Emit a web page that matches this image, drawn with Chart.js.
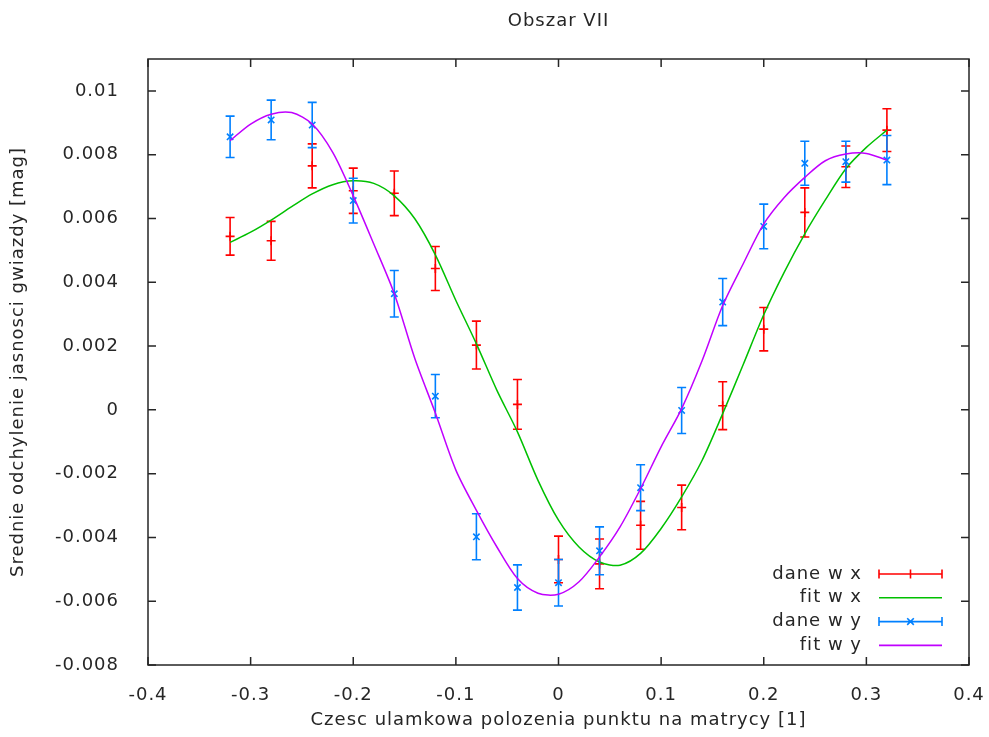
<!DOCTYPE html>
<html>
<head>
<meta charset="utf-8">
<title>Obszar VII</title>
<script src="https://cdn.jsdelivr.net/npm/chart.js@4/dist/chart.umd.min.js"></script>
<style>
  html, body { margin: 0; padding: 0; background: #ffffff; }
  #wrap { width: 989px; height: 737px; }
</style>
</head>
<body>
<div id="wrap"><canvas id="chart" width="989" height="737"></canvas></div>
<script>
// Measurement positions (fractional pixel position on the detector)
const positions = [-0.32, -0.28, -0.24, -0.20, -0.16, -0.12, -0.08, -0.04, 0, 0.04, 0.08, 0.12, 0.16, 0.20, 0.24, 0.28, 0.32];

// Mean brightness deviation along x, with uncertainties
const daneWx    = [0.00544, 0.00530, 0.00765, 0.00687, 0.00679, 0.00443, 0.00203, 0.00017, -0.00469, -0.00483, -0.00362, -0.00306, 0.00013, 0.00253, 0.00619, 0.00762, 0.00877];
const daneWxErr = [0.00059, 0.00061, 0.00069, 0.00071, 0.00070, 0.00069, 0.00075, 0.00078, 0.00073, 0.00078, 0.00075, 0.00070, 0.00075, 0.00068, 0.00077, 0.00065, 0.00067];

// Mean brightness deviation along y, with uncertainties
const daneWy    = [0.00856, 0.00909, 0.00893, 0.00656, 0.00364, 0.00043, -0.00398, -0.00557, -0.00542, -0.00442, -0.00244, -0.00002, 0.00338, 0.00575, 0.00773, 0.00778, 0.00783];
const daneWyErr = [0.00065, 0.00062, 0.00071, 0.00070, 0.00073, 0.00068, 0.00072, 0.00071, 0.00073, 0.00075, 0.00072, 0.00072, 0.00074, 0.00070, 0.00069, 0.00064, 0.00077];

// Fitted curves, sampled along the position axis
const fitPositions = [-0.32, -0.30, -0.28, -0.26, -0.24, -0.22, -0.20, -0.18, -0.16, -0.14, -0.12, -0.10, -0.08, -0.06, -0.04, -0.02, 0,
                      0.02, 0.04, 0.06, 0.08, 0.10, 0.12, 0.14, 0.16, 0.18, 0.20, 0.22, 0.24, 0.26, 0.28, 0.30, 0.32];
const fitWx = [0.00525, 0.00557, 0.00595, 0.00637, 0.00677, 0.00706, 0.00718, 0.00710, 0.00671, 0.00599, 0.00486, 0.00343, 0.00207,
               0.00061, -0.00069, -0.00221, -0.00346, -0.00430, -0.00477, -0.00487, -0.00450, -0.00372, -0.00273, -0.00158,
               -0.00012, 0.00142, 0.00298, 0.00432, 0.00552, 0.00658, 0.00756, 0.00823, 0.00877];
const fitWy = [0.00844, 0.00896, 0.00927, 0.00932, 0.00896, 0.00807, 0.00671, 0.00520, 0.00364, 0.00161, -0.00010, -0.00189, -0.00315,
               -0.00430, -0.00529, -0.00575, -0.00578, -0.00539, -0.00461, -0.00367, -0.00247, -0.00116, 0.00004, 0.00155,
               0.00327, 0.00458, 0.00583, 0.00666, 0.00729, 0.00781, 0.00802, 0.00804, 0.00783];

// Axis ticks
const xTicks = [-0.4, -0.3, -0.2, -0.1, 0, 0.1, 0.2, 0.3, 0.4];
const yTicks = [-0.008, -0.006, -0.004, -0.002, 0, 0.002, 0.004, 0.006, 0.008, 0.01];

const seriesLabels = ['dane w x', 'fit w x', 'dane w y', 'fit w y'];
const seriesColors = ['#ff0000', '#00c000', '#0080ff', '#c000ff'];

const FONT = { family: '"DejaVu Sans", sans-serif', size: 18 };
const TEXT = '#262626';
const FRAME = '#262626';

const toPoints = (xs, ys) => xs.map((x, i) => ({ x: x, y: ys[i] }));
const fmt = v => String(parseFloat(Number(v).toFixed(4)));

// Slightly looser glyph spacing for every label on the canvas
const spacing = {
  id: 'spacing',
  beforeLayout(chart) { chart.ctx.letterSpacing = '1px'; },
  beforeDraw(chart) { chart.ctx.letterSpacing = '1px'; }
};

// Vertical error bars with end caps, drawn right after their dataset
const errorBars = {
  id: 'errorBars',
  afterDatasetDraw(chart, args) {
    const ds = chart.data.datasets[args.index];
    if (!ds.errors) return;
    const { ctx } = chart;
    const xs = chart.scales.x, ys = chart.scales.y;
    const cap = 4.5;
    ctx.save();
    ctx.strokeStyle = ds.borderColor;
    ctx.lineWidth = 1.6;
    ds.data.forEach((p, i) => {
      const e = ds.errors[i];
      const px = xs.getPixelForValue(p.x);
      const top = ys.getPixelForValue(p.y + e);
      const bot = ys.getPixelForValue(p.y - e);
      ctx.beginPath();
      ctx.moveTo(px, top); ctx.lineTo(px, bot);
      ctx.moveTo(px - cap, top); ctx.lineTo(px + cap, top);
      ctx.moveTo(px - cap, bot); ctx.lineTo(px + cap, bot);
      ctx.stroke();
    });
    ctx.restore();
  }
};

// Closed frame around the plot with inward ticks on all four sides
const frame = {
  id: 'frame',
  afterDatasetsDraw(chart) {
    const { ctx, chartArea: a } = chart;
    const xs = chart.scales.x, ys = chart.scales.y;
    const len = 8;
    ctx.save();
    ctx.strokeStyle = FRAME;
    ctx.lineWidth = 1.5;
    ctx.strokeRect(a.left, a.top, a.right - a.left, a.bottom - a.top);
    ctx.beginPath();
    xTicks.forEach(v => {
      const px = xs.getPixelForValue(v);
      ctx.moveTo(px, a.bottom); ctx.lineTo(px, a.bottom - len);
      ctx.moveTo(px, a.top); ctx.lineTo(px, a.top + len);
    });
    yTicks.forEach(v => {
      const py = ys.getPixelForValue(v);
      ctx.moveTo(a.left, py); ctx.lineTo(a.left + len, py);
      ctx.moveTo(a.right, py); ctx.lineTo(a.right - len, py);
    });
    ctx.stroke();
    ctx.restore();
  }
};

// Key in the lower right corner: label on the left, line sample on the right
const key = {
  id: 'key',
  afterDraw(chart) {
    const { ctx } = chart;
    const textRight = 862, x0 = 879, x1 = 942, xm = 910.5;
    const rowTop = 574, rowStep = 23.8, cap = 4.5;
    ctx.save();
    ctx.font = FONT.size + 'px ' + FONT.family;
    ctx.textAlign = 'right';
    ctx.textBaseline = 'middle';
    chart.data.datasets.forEach((ds, i) => {
      const y = rowTop + i * rowStep;
      ctx.fillStyle = TEXT;
      ctx.fillText(ds.label, textRight, y);
      ctx.strokeStyle = ds.borderColor;
      ctx.lineWidth = 1.6;
      ctx.beginPath();
      ctx.moveTo(x0, y); ctx.lineTo(x1, y);
      if (ds.errors) {
        ctx.moveTo(x0, y - cap); ctx.lineTo(x0, y + cap);
        ctx.moveTo(x1, y - cap); ctx.lineTo(x1, y + cap);
        if (ds.pointStyle === 'cross') {
          ctx.moveTo(xm, y - cap); ctx.lineTo(xm, y + cap);
        } else {
          const r = 3.3;
          ctx.moveTo(xm - r, y - r); ctx.lineTo(xm + r, y + r);
          ctx.moveTo(xm - r, y + r); ctx.lineTo(xm + r, y - r);
        }
      }
      ctx.stroke();
    });
    ctx.restore();
  }
};

const noEdgePadding = s => { s.paddingLeft = 0; s.paddingRight = 0; s.paddingTop = 0; s.paddingBottom = 0; };

new Chart(document.getElementById('chart'), {
  type: 'line',
  data: {
    datasets: [
      {
        label: seriesLabels[0], data: toPoints(positions, daneWx), errors: daneWxErr,
        showLine: false, borderColor: seriesColors[0], backgroundColor: seriesColors[0],
        pointStyle: 'cross', pointRadius: 4.5, pointBorderWidth: 1.6, order: 4
      },
      {
        label: seriesLabels[1], data: toPoints(fitPositions, fitWx),
        borderColor: seriesColors[1], borderWidth: 1.5, pointRadius: 0, tension: 0.3, fill: false, order: 3
      },
      {
        label: seriesLabels[2], data: toPoints(positions, daneWy), errors: daneWyErr,
        showLine: false, borderColor: seriesColors[2], backgroundColor: seriesColors[2],
        pointStyle: 'crossRot', pointRadius: 4.5, pointBorderWidth: 1.6, order: 2
      },
      {
        label: seriesLabels[3], data: toPoints(fitPositions, fitWy),
        borderColor: seriesColors[3], borderWidth: 1.5, pointRadius: 0, tension: 0.3, fill: false, order: 1
      }
    ]
  },
  options: {
    responsive: false,
    animation: false,
    events: [],
    layout: { padding: { left: 0, right: 20, top: 0, bottom: 0 } },
    plugins: { legend: { display: false }, tooltip: { enabled: false }, title: { display: false } },
    scales: {
      x: {
        type: 'linear', position: 'bottom', min: -0.4, max: 0.4,
        afterBuildTicks: s => { s.ticks = xTicks.map(v => ({ value: v })); },
        afterFit: s => { s.height = 72; noEdgePadding(s); },
        grid: { display: false }, border: { display: false },
        ticks: { font: FONT, color: TEXT, padding: 12, maxRotation: 0, autoSkip: false, callback: v => fmt(v) },
        title: { display: true, text: 'Czesc ulamkowa polozenia punktu na matrycy [1]', font: FONT, color: TEXT, padding: { top: 0, bottom: 6 } }
      },
      top: {
        type: 'linear', position: 'top', min: -0.4, max: 0.4,
        afterFit: s => { s.height = 59; noEdgePadding(s); },
        grid: { display: false }, border: { display: false },
        ticks: { display: false },
        title: { display: true, text: 'Obszar VII', font: FONT, color: TEXT, padding: { top: 11, bottom: 0 } }
      },
      y: {
        type: 'linear', position: 'left', min: -0.008, max: 0.011,
        afterBuildTicks: s => { s.ticks = yTicks.map(v => ({ value: v })); },
        afterFit: s => { s.width = 148; noEdgePadding(s); },
        grid: { display: false }, border: { display: false },
        ticks: { font: FONT, color: TEXT, padding: 21, autoSkip: false, callback: v => fmt(v) },
        title: { display: true, text: 'Srednie odchylenie jasnosci gwiazdy [mag]', font: FONT, color: TEXT, padding: { top: 8, bottom: 0 } }
      }
    }
  },
  plugins: [spacing, errorBars, frame, key]
});
</script>
</body>
</html>
